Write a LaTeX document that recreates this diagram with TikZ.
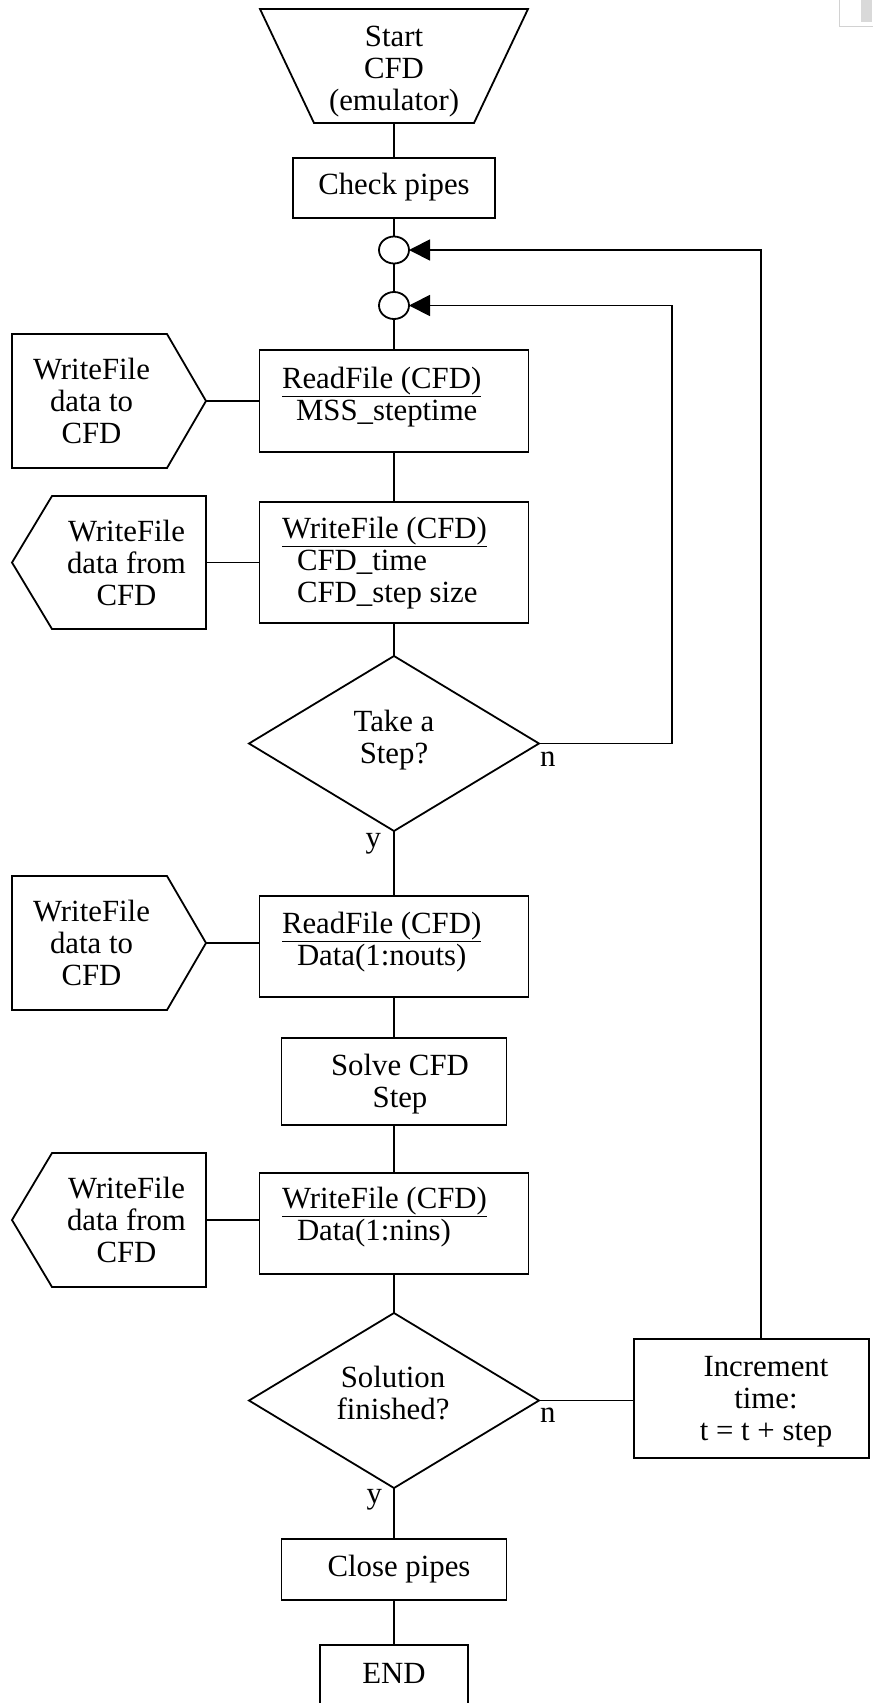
\documentclass[tikz,border=0pt]{standalone}
\usepackage{fontspec}
\setmainfont{Liberation Serif}
\usetikzlibrary{shapes.geometric,arrows.meta}
\begin{document}
\begin{tikzpicture}[x=1pt,y=-1pt,line width=1.8pt,
  box/.style={draw,rectangle,inner sep=0pt,outer sep=0pt},
  dia/.style={draw,diamond,inner sep=0pt,outer sep=0pt,minimum width=290pt,minimum height=175pt},
  junc/.style={draw,ellipse,inner sep=0pt,outer sep=0pt,minimum width=30pt,minimum height=27pt},
  txt/.style={inner sep=0pt,outer sep=0pt,font=\fontsize{30.8}{32}\selectfont},
  arr/.style={-{Triangle[length=21pt,width=21pt]}},
  artifact/.style={draw=gray!35,line width=1pt}
]
\useasboundingbox (0,0) rectangle (874,1703);
\clip (0,0) rectangle (874,1703);

% faint scan artifact in the top right corner
\draw[artifact] (839,0) -- (839,26) -- (873,26);
\fill[gray!30] (861,0) rectangle (872,22);

% start trapezoid
\draw (260,9) -- (528,9) -- (474,123) -- (314,123) -- cycle;
\coordinate (startb) at (394,123);
\node[txt,anchor=base] (startt) at (394,46) {\begin{tabular}[t]{@{}c@{}}Start\\CFD\\(emulator)\end{tabular}};

% main column
\node[box,minimum width=202pt,minimum height=60pt] (check) at (394,188) {};
\node[txt,anchor=base] (checkt) at (394,194) {Check pipes};

\node[junc] (c1) at (394,250) {};
\node[junc] (c2) at (394,305.5) {};

\node[box,minimum width=269pt,minimum height=102pt] (rf1) at (394,401) {};
\node[txt,anchor=base west] (rf1t) at (282,388) {\begin{tabular}[t]{@{}l@{}}\underline{ReadFile (CFD)}\\\hspace{14pt}MSS\_steptime\end{tabular}};

\node[box,minimum width=269pt,minimum height=121pt] (wf1) at (394,562.5) {};
\node[txt,anchor=base west] (wf1t) at (282,538) {\begin{tabular}[t]{@{}l@{}}\underline{WriteFile (CFD)}\\\hspace{15pt}CFD\_time\\\hspace{15pt}CFD\_step size\end{tabular}};

\node[dia] (d1) at (394,743.5) {};
\node[txt,anchor=base] (d1t) at (394,731) {\begin{tabular}[t]{@{}c@{}}Take a\\Step?\end{tabular}};
\node[txt,anchor=base west] (d1n) at (540,766) {n};
\node[txt,anchor=base east] (d1y) at (381,847) {y};

\node[box,minimum width=269pt,minimum height=101pt] (rf2) at (394,946.5) {};
\node[txt,anchor=base west] (rf2t) at (282,933) {\begin{tabular}[t]{@{}l@{}}\underline{ReadFile (CFD)}\\\hspace{15pt}Data(1:nouts)\end{tabular}};

\node[box,minimum width=225pt,minimum height=87pt] (solve) at (394,1081.5) {};
\node[txt,anchor=base] (solvet) at (400,1075) {\begin{tabular}[t]{@{}c@{}}Solve CFD\\Step\end{tabular}};

\node[box,minimum width=269pt,minimum height=101pt] (wf2) at (394,1223.5) {};
\node[txt,anchor=base west] (wf2t) at (282,1208) {\begin{tabular}[t]{@{}l@{}}\underline{WriteFile (CFD)}\\\hspace{15pt}Data(1:nins)\end{tabular}};

\node[dia] (d2) at (394,1400.5) {};
\node[txt,anchor=base] (d2t) at (393,1387) {\begin{tabular}[t]{@{}c@{}}Solution\\finished?\end{tabular}};
\node[txt,anchor=base west] (d2n) at (540,1422) {n};
\node[txt,anchor=base east] (d2y) at (382,1503) {y};

\node[box,minimum width=225pt,minimum height=61pt] (close) at (394,1569.5) {};
\node[txt,anchor=base] (closet) at (399,1576) {Close pipes};

\node[box,minimum width=148pt,minimum height=110pt] (end) at (394,1700) {};
\node[txt,anchor=base] (endt) at (394,1683) {END};

\node[box,minimum width=235pt,minimum height=119pt] (inc) at (751.5,1398.5) {};
\node[txt,anchor=base] (inct) at (766,1376) {\begin{tabular}[t]{@{}c@{}}Increment\\time:\\t = t + step\end{tabular}};

% side pentagons
\draw (12,334) -- (167,334) -- (206,401) -- (167,468) -- (12,468) -- cycle;
\coordinate (p1) at (206,401);
\node[txt,anchor=base] (p1t) at (91.5,379.5) {\begin{tabular}[t]{@{}c@{}}WriteFile\\data to\\CFD\end{tabular}};

\draw (206,496) -- (52,496) -- (12,562.5) -- (52,629) -- (206,629) -- cycle;
\coordinate (p2) at (206,562.5);
\node[txt,anchor=base] (p2t) at (126.5,541) {\begin{tabular}[t]{@{}c@{}}WriteFile\\data from\\CFD\end{tabular}};

\draw (12,876) -- (167,876) -- (206,943) -- (167,1010) -- (12,1010) -- cycle;
\coordinate (p3) at (206,943);
\node[txt,anchor=base] (p3t) at (91.5,921.5) {\begin{tabular}[t]{@{}c@{}}WriteFile\\data to\\CFD\end{tabular}};

\draw (206,1153) -- (52,1153) -- (12,1220) -- (52,1287) -- (206,1287) -- cycle;
\coordinate (p4) at (206,1220);
\node[txt,anchor=base] (p4t) at (126.5,1198.5) {\begin{tabular}[t]{@{}c@{}}WriteFile\\data from\\CFD\end{tabular}};

% connectors
\draw (startb) -- (check.north);
\draw (check.south) -- (c1.north);
\draw (c1.south) -- (c2.north);
\draw (c2.south) -- (rf1.north);
\draw (rf1.south) -- (wf1.north);
\draw (wf1.south) -- (d1.north);
\draw (d1.south) -- (rf2.north);
\draw (rf2.south) -- (solve.north);
\draw (solve.south) -- (wf2.north);
\draw (wf2.south) -- (d2.north);
\draw (d2.south) -- (close.north);
\draw (close.south) -- (end.north);
\draw (d2.east) -- (d2.east -| inc.west);
\draw (p1) -- (p1 -| rf1.west);
\draw (p2) -- (p2 -| wf1.west);
\draw (p3) -- (p3 -| rf2.west);
\draw (p4) -- (p4 -| wf2.west);
\draw[arr] (d1.east) -- ++(133,0) |- (c2.east);
\draw[arr] ([xshift=9.5pt]inc.north) |- (c1.east);
\end{tikzpicture}
\end{document}
